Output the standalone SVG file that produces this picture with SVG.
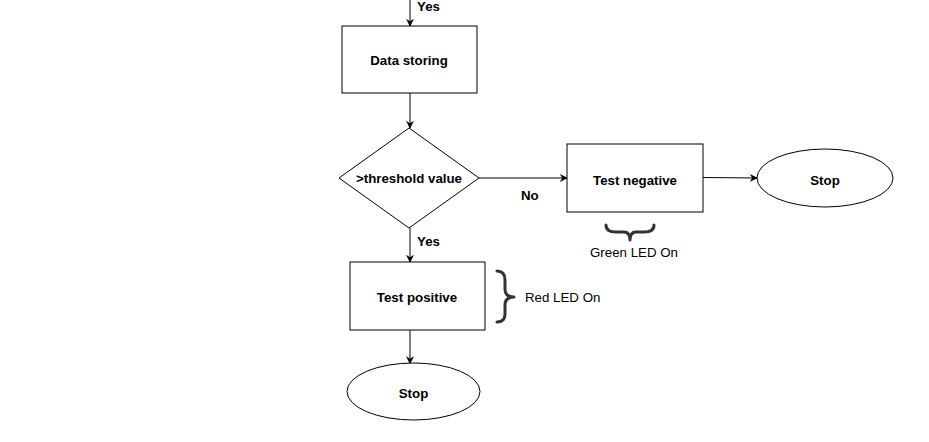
<svg xmlns="http://www.w3.org/2000/svg" width="929" height="442" viewBox="0 0 929 442">
<style>
.shape{fill:#fff;stroke:#000;stroke-width:1}
.conn{fill:none;stroke:#000;stroke-width:1}
.brace{fill:none;stroke:#333;stroke-width:3;stroke-linecap:round;stroke-linejoin:round}
.lbl{font-family:"Liberation Sans",Arial,sans-serif;font-size:13.3px;font-weight:bold;fill:#000;text-anchor:middle;dominant-baseline:central}
.note{font-family:"Liberation Sans",Arial,sans-serif;font-size:13.3px;fill:#000}
.elbl{font-family:"Liberation Sans",Arial,sans-serif;font-size:13.3px;font-weight:bold;fill:#000}
</style>
<defs>
<marker id="arr" viewBox="0 0 10 10" refX="9" refY="5" markerWidth="8" markerHeight="8" markerUnits="userSpaceOnUse" orient="auto">
<path d="M0,0 L10,5 L0,10 L3,5 Z" fill="#000"/>
</marker>
</defs>
<rect width="929" height="442" fill="#fff"/>
<g id="connectors">
<line class="conn" x1="410" y1="0" x2="410" y2="26" marker-end="url(#arr)"/>
<line class="conn" x1="410" y1="93" x2="410" y2="128" marker-end="url(#arr)"/>
<line class="conn" x1="479" y1="178" x2="567" y2="178" marker-end="url(#arr)"/>
<line class="conn" x1="703" y1="177.5" x2="757" y2="178" marker-end="url(#arr)"/>
<line class="conn" x1="410" y1="228" x2="410" y2="262" marker-end="url(#arr)"/>
<line class="conn" x1="410" y1="330" x2="410" y2="363.5" marker-end="url(#arr)"/>
<text class="elbl" x="417" y="11">Yes</text>
<text class="elbl" x="521" y="200">No</text>
<text class="elbl" x="417" y="246">Yes</text>
</g>
<g id="data-storing">
<rect class="shape" x="342" y="26" width="135" height="67"/>
<text class="lbl" x="409" y="60">Data storing</text>
</g>
<g id="threshold">
<polygon class="shape" points="409,128 479,178 409,228 339,178"/>
<text class="lbl" x="409" y="178">&gt;threshold value</text>
</g>
<g id="test-negative">
<rect class="shape" x="567" y="144" width="136" height="68"/>
<text class="lbl" x="635" y="180">Test negative</text>
</g>
<g id="stop-right">
<ellipse class="shape" cx="825" cy="178" rx="68" ry="29"/>
<text class="lbl" x="825" y="180">Stop</text>
</g>
<g id="green-led">
<path class="brace" d="M606,225 Q606,232 616,232 L624,232 Q630,232 630,240 Q630,232 636,232 L644,232 Q654,232 654,225"/>
<text class="note" x="634" y="257" text-anchor="middle">Green LED On</text>
</g>
<g id="test-positive">
<rect class="shape" x="350" y="262" width="135" height="68"/>
<text class="lbl" x="417" y="297">Test positive</text>
</g>
<g id="red-led">
<path class="brace" d="M497,271 Q505,271 505,280 L505,289 Q505,297 514,297 Q505,297 505,305 L505,314 Q505,322 497,322"/>
<text class="note" x="525" y="302">Red LED On</text>
</g>
<g id="stop-bottom">
<ellipse class="shape" cx="413.5" cy="391.5" rx="66.5" ry="28.5"/>
<text class="lbl" x="413.5" y="393">Stop</text>
</g>
</svg>
